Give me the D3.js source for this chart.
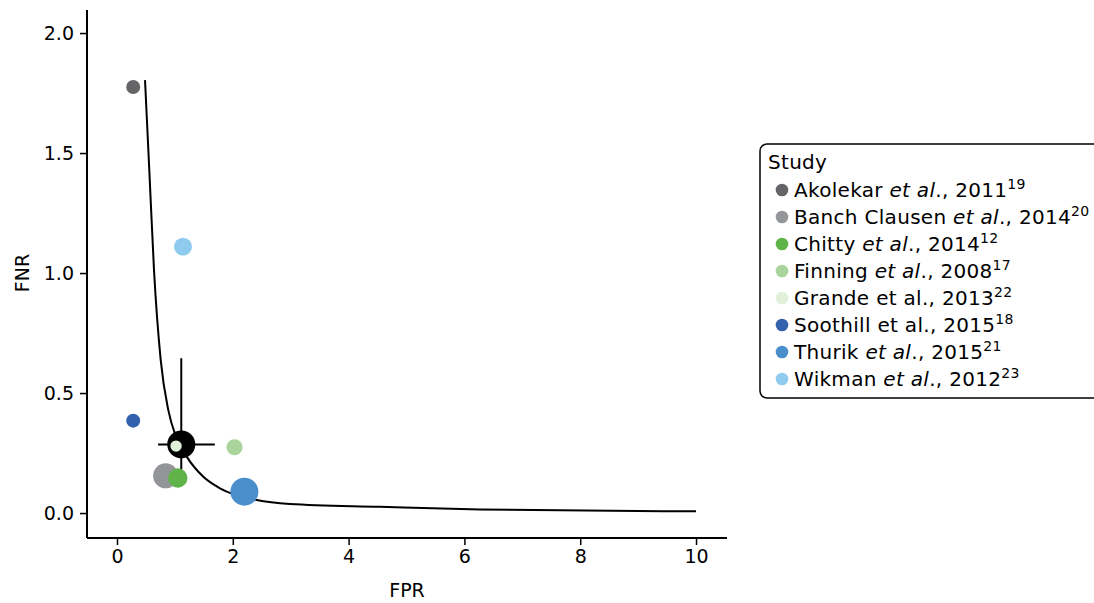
<!DOCTYPE html>
<html>
<head>
<meta charset="utf-8">
<script src="https://cdn.jsdelivr.net/npm/d3@7"></script>
<style>
  body { margin: 0; background: #fff; }
  svg { display: block; font-family: "DejaVu Sans", sans-serif; }
</style>
</head>
<body>
<svg id="chart" width="1094" height="603"></svg>
<script>
// study points
const studies = ['Akolekar', 'Banch Clausen', 'Chitty', 'Finning', 'Grande', 'Soothill', 'Thurik', 'Wikman'];
const years = ['2011', '2014', '2014', '2008', '2013', '2015', '2015', '2012'];
const refs = ['19', '20', '12', '17', '22', '18', '21', '23'];
const italicEtAl = [true, true, true, true, false, false, true, true];
const fpr = [0.28, 0.84, 1.05, 2.03, 1.02, 0.28, 2.2, 1.14];
const fnr = [1.775, 0.155, 0.146, 0.274, 0.279, 0.385, 0.089, 1.11];
const weight = [25, 80, 48, 33, 16.5, 25, 100, 41];
const colors = ['#656567', '#939598', '#5fb348', '#a9d49b', '#e1f0d9', '#3461ae', '#4a8fcc', '#8fcbef'];

// summary point + confidence limits
const summary = { fpr: 1.11, fnr: 0.286, weight: 100 };
const fprCI = [0.71, 1.69];
const fnrCI = [0.17, 0.645];

// fitted curve
const curveFpr = [0.484, 0.558, 0.639, 0.755, 0.886, 1.019, 1.204, 1.491, 1.779, 2.413, 2.988, 4.54, 6.27, 10.0];
const curveFnr = [1.804, 1.429, 1.013, 0.6375, 0.429, 0.318, 0.235, 0.151, 0.103, 0.054, 0.0375, 0.026, 0.015, 0.007];

const xTicks = [0, 2, 4, 6, 8, 10];
const yTicks = [0, 0.5, 1, 1.5, 2];

main();

function main () {
  const svg = d3.select('#chart');
  const x = d3.scaleLinear().domain([-0.518, 10.535]).range([87, 727]);
  const y = d3.scaleLinear().domain([-0.104, 2.096]).range([538, 10]);
  const r = d3.scaleSqrt().domain([0, 100]).range([0, 14]);

  drawAxes(svg, x, y);

  // curve
  const line = d3.line()
    .x((d, i) => x(curveFpr[i]))
    .y((d, i) => y(curveFnr[i]))
    .curve(d3.curveMonotoneX);
  svg.append('path')
    .attr('d', line(curveFpr))
    .attr('fill', 'none')
    .attr('stroke', '#000')
    .attr('stroke-width', 2);

  // crosshair
  svg.append('line').attr('x1', x(fprCI[0])).attr('x2', x(fprCI[1]))
    .attr('y1', y(summary.fnr)).attr('y2', y(summary.fnr))
    .attr('stroke', '#000').attr('stroke-width', 2);
  svg.append('line').attr('x1', x(summary.fpr)).attr('x2', x(summary.fpr))
    .attr('y1', y(fnrCI[0])).attr('y2', y(fnrCI[1]))
    .attr('stroke', '#000').attr('stroke-width', 2);
  svg.append('circle')
    .attr('cx', x(summary.fpr)).attr('cy', y(summary.fnr))
    .attr('r', r(summary.weight)).attr('fill', '#000');

  // study points
  studies.forEach((s, i) => {
    svg.append('circle')
      .attr('cx', x(fpr[i])).attr('cy', y(fnr[i]))
      .attr('r', r(weight[i]))
      .attr('fill', colors[i]);
  });

  drawLegend(svg);
}

function drawAxes (svg, x, y) {
  const xAxis = svg.append('g')
    .attr('transform', 'translate(0,538)')
    .call(d3.axisBottom(x).tickValues(xTicks).tickSize(7).tickPadding(5).tickFormat(d3.format('d')));
  const yAxis = svg.append('g')
    .attr('transform', 'translate(87,0)')
    .call(d3.axisLeft(y).tickValues(yTicks).tickSize(7).tickPadding(6).tickFormat(d3.format('.1f')));
  [xAxis, yAxis].forEach(g => {
    g.attr('font-family', '"DejaVu Sans", sans-serif').attr('font-size', 19);
    g.select('.domain').attr('stroke', '#000').attr('stroke-width', 2);
    g.selectAll('.tick line').attr('stroke', '#000').attr('stroke-width', 1.5);
    g.selectAll('.tick text').attr('fill', '#000');
  });
  // trim the outer tick stubs of the domain
  xAxis.select('.domain').attr('d', 'M87,0H727');
  yAxis.select('.domain').attr('d', 'M0,10V538');

  svg.append('text').text('FPR')
    .attr('x', 407).attr('y', 597)
    .attr('text-anchor', 'middle')
    .attr('font-size', '19px');
  svg.append('text').text('FNR')
    .attr('transform', 'translate(29,273) rotate(-90)')
    .attr('text-anchor', 'middle')
    .attr('font-size', '19px');
}

function drawLegend (svg) {
  const g = svg.append('g');
  g.append('rect')
    .attr('x', 760).attr('y', 144)
    .attr('width', 360).attr('height', 254)
    .attr('rx', 7).attr('ry', 7)
    .attr('fill', '#fff').attr('stroke', '#000').attr('stroke-width', 1.5);
  g.append('text').text('Study')
    .attr('x', 768).attr('y', 169)
    .attr('font-size', '20px')
    .attr('letter-spacing', 0.3);
  studies.forEach((s, i) => {
    const cy = 190 + i * 27;
    g.append('circle').attr('cx', 782).attr('cy', cy).attr('r', 6.3).attr('fill', colors[i]);
    const t = g.append('text').attr('x', 794).attr('y', cy + 7)
      .attr('font-size', '20px').attr('letter-spacing', 0.3);
    t.append('tspan').text(s + ' ');
    t.append('tspan').text('et al').attr('font-style', italicEtAl[i] ? 'italic' : 'normal');
    t.append('tspan').text('., ' + years[i]);
    t.append('tspan').text(refs[i]).attr('font-size', '14px').attr('dy', -8);
  });
}
</script>
</body>
</html>
